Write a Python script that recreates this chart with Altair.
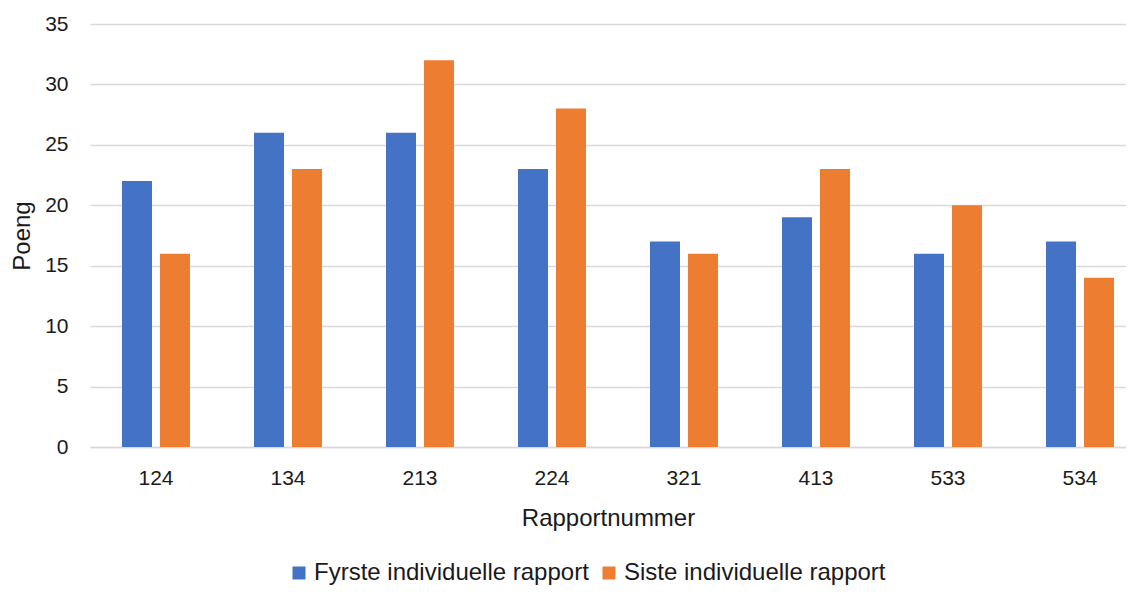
import altair as alt
import pandas as pd

categories = ["124", "134", "213", "224", "321", "413", "533", "534"]
first_report = [22, 26, 26, 23, 17, 19, 16, 17]
last_report = [16, 23, 32, 28, 16, 23, 20, 14]
series_names = ["Fyrste individuelle rapport", "Siste individuelle rapport"]

rows = []
for c, a, b in zip(categories, first_report, last_report):
    rows.append({"Rapportnummer": c, "Serie": series_names[0], "Poeng": a})
    rows.append({"Rapportnummer": c, "Serie": series_names[1], "Poeng": b})
df = pd.DataFrame(rows)

font = "Liberation Sans"
txt = "#1a1a1a"

chart = alt.Chart(df).mark_bar().encode(
    x=alt.X("Rapportnummer:N", sort=categories, title="Rapportnummer",
            scale=alt.Scale(paddingInner=0.485, paddingOuter=0.1667, align=0.727),
            axis=alt.Axis(labelAngle=0, labelFontSize=21, titleFontSize=24,
                          labelColor=txt, titleColor=txt,
                          titleFontWeight="normal", ticks=False,
                          domainColor="#D9D9D9", domainWidth=1.5,
                          labelPadding=20, titlePadding=18,
                          labelFont=font, titleFont=font)),
    xOffset=alt.XOffset("Serie:N", sort=series_names,
                        scale=alt.Scale(paddingInner=0.21, paddingOuter=0)),
    y=alt.Y("Poeng:Q", title="Poeng",
            scale=alt.Scale(domain=[0, 35], nice=False),
            axis=alt.Axis(values=list(range(0, 36, 5)), labelFontSize=21, titleFontSize=24,
                          labelColor=txt, titleColor=txt,
                          titleFontWeight="normal", ticks=False, domain=False,
                          gridColor="#D9D9D9", gridWidth=1.5,
                          labelPadding=22, titlePadding=10,
                          labelFont=font, titleFont=font)),
    color=alt.Color("Serie:N", sort=series_names,
                    scale=alt.Scale(domain=series_names, range=["#4472C4", "#ED7D31"]),
                    legend=alt.Legend(title=None, orient="none", direction="horizontal",
                                      legendX=197, legendY=537,
                                      symbolType="square", symbolSize=169,
                                      symbolStrokeWidth=0, symbolOffset=0,
                                      labelFontSize=24, labelColor=txt, labelLimit=0,
                                      labelOffset=3, labelFont=font, columnPadding=8)),
).properties(
    width=1036, height=423,
    autosize="none",
    padding={"left": 82, "top": 16, "right": 0, "bottom": 143},
).configure_view(stroke=None)

chart.save("out.html", embed_options={"renderer": "svg", "actions": False})
